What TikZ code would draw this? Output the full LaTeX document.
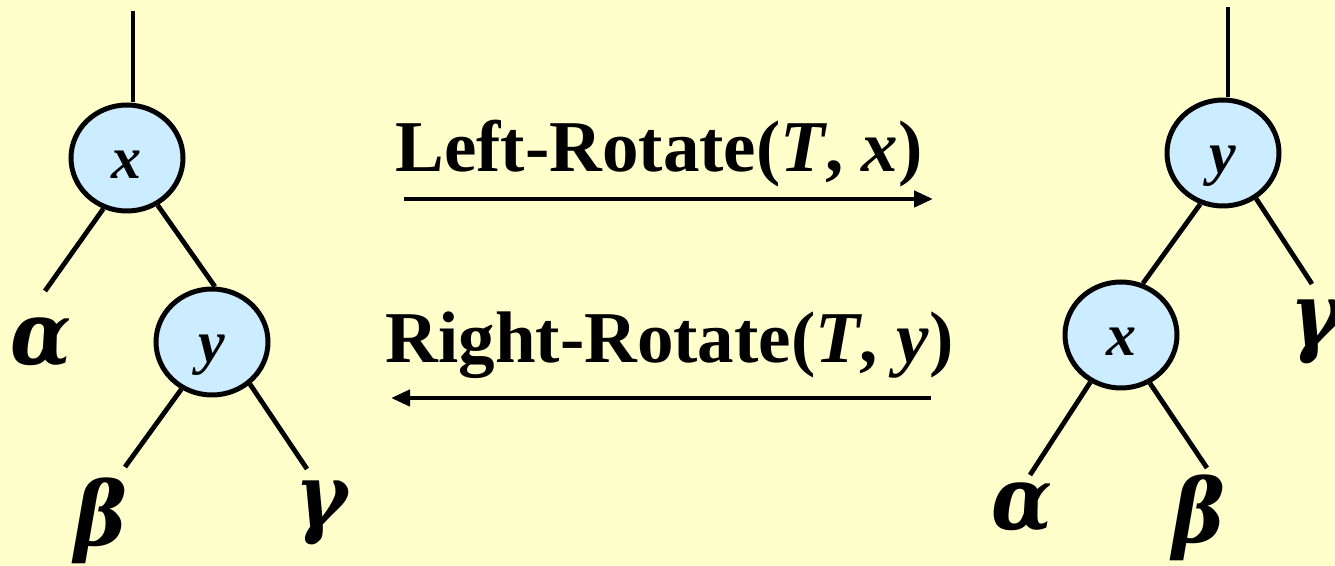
\documentclass[tikz,border=0pt]{standalone}
\usepackage{fontspec}
\setmainfont{Liberation Serif}
\newfontfamily\grkfont{DejaVu Serif}
\usetikzlibrary{shapes.geometric,arrows.meta}
\definecolor{bgyellow}{RGB}{255,255,204}
\definecolor{nodeblue}{RGB}{204,236,255}
\newcommand{\grk}[2]{\scalebox{#1}[1]{#2}}
\tikzset{
  treenode/.style={ellipse,draw=black,fill=nodeblue,line width=2.5pt,inner sep=0pt,
    minimum width=56pt,minimum height=53pt,
    font=\fontsize{30}{30}\selectfont\bfseries\itshape,text height=21pt,text depth=0pt},
  treeedge/.style={line width=2.4pt},
  greek/.style={inner sep=0pt,font=\fontsize{44}{48}\selectfont\grkfont\bfseries\itshape},
  optext/.style={inner sep=0pt,anchor=base,font=\fontsize{36.5}{40}\selectfont\bfseries},
  oparrow/.style={line width=2.2pt,-{Triangle[length=9.5pt,width=8pt]}}
}
\begin{document}
\begin{tikzpicture}[x=0.5pt,y=-0.5pt]
\fill[bgyellow] (0,0) rectangle (1335,566);
\useasboundingbox (0,0) rectangle (1335,566);
% left tree
\node[treenode] (xL) at (127,158) {x};
\node[treenode] (yL) at (212,342) {y};
\coordinate (tL) at (133,11);
\coordinate (aLe) at (45,291);
\coordinate (bLe) at (125,467);
\coordinate (gLe) at (307,469);
\draw[treeedge] (tL) -- (tL |- xL.north);
\draw[treeedge] (xL.-115) -- (aLe);
\draw[treeedge] (xL.-57) -- (yL.87);
\draw[treeedge] (yL.-123) -- (bLe);
\draw[treeedge] (yL.-48) -- (gLe);
\node[greek] (aL) at (41,343) {\grk{0.9}{α}};
\node[greek] (bL) at (101,521) {\grk{0.9}{β}};
\node[greek] (gL) at (322,513) {\grk{0.9}{γ}};
% right tree
\node[treenode] (yR) at (1223,153) {y};
\node[treenode] (xR) at (1121,335) {x};
\coordinate (tR) at (1228,7);
\coordinate (gRe) at (1312,284);
\coordinate (aRe) at (1030,475);
\coordinate (bRe) at (1207,468);
\draw[treeedge] (tR) -- (tR |- yR.north);
\draw[treeedge] (yR.-114) -- (xR.67);
\draw[treeedge] (yR.-54) -- (gRe);
\draw[treeedge] (xR.-123) -- (aRe);
\draw[treeedge] (xR.-59) -- (bRe);
\node[greek] (aR) at (1022,508) {\grk{0.9}{α}};
\node[greek] (bR) at (1199,518) {\grk{0.9}{β}};
\node[greek] (gR) at (1317,332) {\grk{0.9}{γ}};
% operations
\node[optext] (lrot) at (659,172) {Left-Rotate(\textit{T}, \textit{x})};
\node[optext] (rrot) at (669.5,363) {Right-Rotate(\textit{T}, \textit{y})};
\coordinate (la1) at (404,199);
\coordinate (la2) at (933,199);
\coordinate (ra1) at (931,398);
\coordinate (ra2) at (391,398);
\draw[oparrow] (la1) -- (la2);
\draw[oparrow] (ra1) -- (ra2);
\end{tikzpicture}
\end{document}
